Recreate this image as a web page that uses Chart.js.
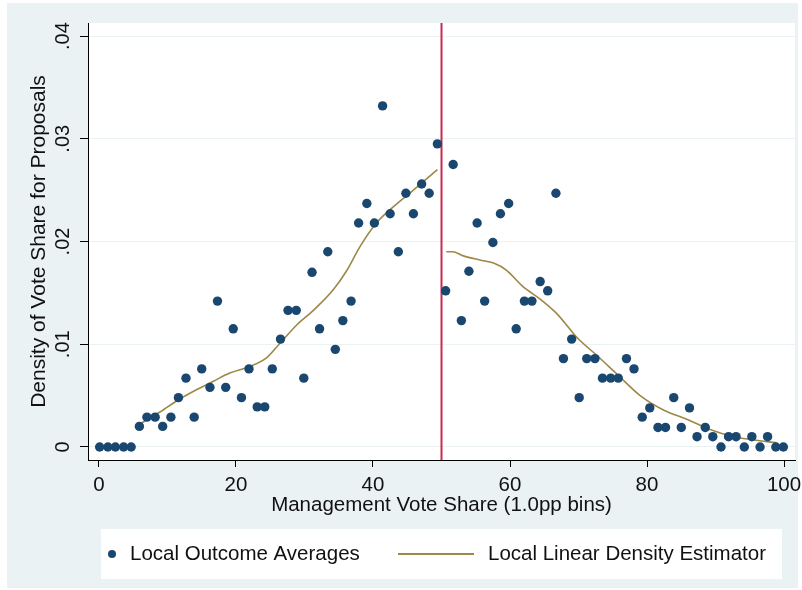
<!DOCTYPE html>
<html>
<head>
<meta charset="utf-8">
<script src="https://cdn.jsdelivr.net/npm/chart.js@4.4.1/dist/chart.umd.min.js"></script>
<style>
  html, body { margin: 0; padding: 0; background: #fff; }
  #wrap { width: 802px; height: 590px; }
</style>
</head>
<body>
<div id="wrap"><canvas id="chart" width="802" height="590"></canvas></div>
<script>
// bins left of the cutoff (x = bin centre, y = density)
const leftX = [0.1, 1.3, 2.4, 3.6, 4.7, 5.9, 7.0, 8.2, 9.3, 10.5, 11.6, 12.7, 13.9, 15.0, 16.2,
  17.3, 18.5, 19.6, 20.8, 21.9, 23.1, 24.2, 25.3, 26.5, 27.6, 28.8, 29.9, 31.1, 32.2, 33.4,
  34.5, 35.6, 36.8, 37.9, 39.1, 40.2, 41.4, 42.5, 43.7, 44.8, 45.9, 47.1, 48.2, 49.4];
const leftY = [0, 0, 0, 0, 0, 0.0020, 0.0029, 0.0029, 0.0020, 0.0029, 0.0048, 0.0067, 0.0029, 0.0076, 0.0058,
  0.0142, 0.0058, 0.0115, 0.0048, 0.0076, 0.0039, 0.0039, 0.0076, 0.0105, 0.0133, 0.0133, 0.0067, 0.0170, 0.0115, 0.0190,
  0.0095, 0.0123, 0.0142, 0.0218, 0.0237, 0.0218, 0.0332, 0.0227, 0.0190, 0.0247, 0.0227, 0.0256, 0.0247, 0.0295];

// bins right of the cutoff
const rightX = [50.6, 51.7, 52.9, 54.0, 55.2, 56.3, 57.5, 58.6, 59.8, 60.9, 62.1, 63.2, 64.4, 65.5, 66.7,
  67.8, 69.0, 70.1, 71.2, 72.4, 73.5, 74.7, 75.8, 77.0, 78.1, 79.3, 80.4, 81.6, 82.7, 83.9,
  85.0, 86.2, 87.3, 88.5, 89.6, 90.8, 91.9, 93.0, 94.2, 95.3, 96.5, 97.6, 98.8, 99.9];
const rightY = [0.0152, 0.0275, 0.0123, 0.0171, 0.0218, 0.0142, 0.0199, 0.0227, 0.0237, 0.0115, 0.0142, 0.0142, 0.0161, 0.0152, 0.0247,
  0.0086, 0.0105, 0.0048, 0.0086, 0.0086, 0.0067, 0.0067, 0.0067, 0.0086, 0.0076, 0.0029, 0.0038, 0.0019, 0.0019, 0.0048,
  0.0019, 0.0038, 0.0010, 0.0019, 0.0010, 0, 0.0010, 0.0010, 0, 0.0010, 0, 0.0010, 0, 0];

// local linear density fit, each side
const fitLeftX = [5.9, 8.9, 11.6, 14.3, 16.7, 19.1, 21.9, 24.5, 26.3, 28.9, 31.3, 34.2, 36.2, 38.1, 40.5, 43.0, 45.9, 49.4];
const fitLeftY = [0.0022, 0.0034, 0.0046, 0.0056, 0.0064, 0.0072, 0.0078, 0.0087, 0.0100, 0.0119, 0.0133, 0.0153, 0.0172, 0.0195, 0.0218, 0.0234, 0.0250, 0.0270];
const fitRightX = [50.7, 51.6, 53.2, 55.6, 57.6, 59.5, 61.9, 64.4, 66.8, 68.7, 69.7, 72.7, 75.6, 79.0, 82.4, 85.8, 89.2, 92.6, 95.5, 98.9];
const fitRightY = [0.0190, 0.0190, 0.0186, 0.0182, 0.0179, 0.0172, 0.0156, 0.0144, 0.0130, 0.0115, 0.0107, 0.0089, 0.0071, 0.0050, 0.0036, 0.0027, 0.0017, 0.0010, 0.0007, 0.0004];

const cutoff = 50;
const xTicks = [0, 20, 40, 60, 80, 100];
const xTickLabels = ["0", "20", "40", "60", "80", "100"];
const yTicks = [0, 0.01, 0.02, 0.03, 0.04];
const yTickLabels = ["0", ".01", ".02", ".03", ".04"];
const xTitle = "Management Vote Share (1.0pp bins)";
const yTitle = "Density of Vote Share for Proposals";
const dotLabel = "Local Outcome Averages";
const fitLabel = "Local Linear Density Estimator";

const dotColor = "#1a476f";
const fitColor = "#9c8847";
const cutColor = "#cc2b50";
const panelBg = "#eaf2f3";
const textColor = "#111";

// narrow font when it is there, the stata text looks condensed
function hasFont(name) {
  const c = document.createElement("canvas").getContext("2d");
  c.font = "40px monospace";
  const a = c.measureText("Management Vote").width;
  c.font = '40px "' + name + '", monospace';
  return c.measureText("Management Vote").width !== a;
}
const narrow = hasFont("Liberation Sans Narrow");
const hFont = narrow
  ? { family: '"Liberation Sans Narrow"', size: 25 }
  : { family: '"Liberation Sans", Arial, sans-serif', size: 20.5 };
const vFamily = '"Liberation Sans", Arial, sans-serif';

function pts(xs, ys) {
  return xs.map((x, i) => ({ x: x, y: ys[i] }));
}

const xMin = -1.6, xMax = 101.6;
const yMin = -0.00127, yMax = 0.04127;

const backdrop = {
  id: "backdrop",
  beforeDraw(chart) {
    const { ctx, chartArea: a } = chart;
    ctx.save();
    ctx.fillStyle = "#fff";
    ctx.fillRect(0, 0, chart.width, chart.height);
    ctx.fillStyle = panelBg;
    ctx.fillRect(7, 3, 791, 585);
    ctx.fillStyle = "#fff";
    ctx.fillRect(a.left, a.top, a.right - a.left, a.bottom - a.top);
    ctx.restore();
  },
  afterDraw(chart) {
    // legend box under the plot
    const ctx = chart.ctx;
    const cy = 554;
    ctx.save();
    ctx.fillStyle = "#fff";
    ctx.fillRect(101, 529, 681, 50);
    ctx.fillStyle = dotColor;
    ctx.beginPath();
    ctx.arc(112, cy, 4, 0, Math.PI * 2);
    ctx.fill();
    ctx.strokeStyle = fitColor;
    ctx.lineWidth = 2;
    ctx.beginPath();
    ctx.moveTo(398, cy);
    ctx.lineTo(474, cy);
    ctx.stroke();
    ctx.fillStyle = textColor;
    ctx.font = hFont.size + "px " + hFont.family;
    ctx.textBaseline = "middle";
    ctx.textAlign = "left";
    ctx.fillText(dotLabel, 130, cy);
    ctx.fillText(fitLabel, 488, cy);
    ctx.restore();
  },
};

new Chart(document.getElementById("chart"), {
  type: "scatter",
  data: {
    datasets: [
      {
        label: dotLabel,
        data: pts(leftX, leftY).concat(pts(rightX, rightY)),
        backgroundColor: dotColor,
        borderWidth: 0,
        pointRadius: 4.7,
        order: 1,
      },
      {
        label: fitLabel,
        data: pts(fitLeftX, fitLeftY),
        showLine: true,
        borderColor: fitColor,
        borderWidth: 1.6,
        pointRadius: 0,
        cubicInterpolationMode: "monotone",
        order: 2,
      },
      {
        label: fitLabel,
        data: pts(fitRightX, fitRightY),
        showLine: true,
        borderColor: fitColor,
        borderWidth: 1.6,
        pointRadius: 0,
        cubicInterpolationMode: "monotone",
        order: 3,
      },
      {
        label: "cutoff",
        data: [{ x: cutoff, y: yMin }, { x: cutoff, y: yMax }],
        showLine: true,
        borderColor: cutColor,
        borderWidth: 2,
        pointRadius: 0,
        order: 4,
      },
    ],
  },
  options: {
    responsive: false,
    animation: false,
    layout: { padding: { left: 0, top: 23, right: 7, bottom: 0 } },
    plugins: { legend: { display: false }, tooltip: { enabled: false } },
    scales: {
      x: {
        type: "linear",
        min: xMin,
        max: xMax,
        afterBuildTicks: (s) => { s.ticks = xTicks.map((v) => ({ value: v })); },
        afterFit: (s) => { s.height = 130; s.paddingLeft = 0; s.paddingRight = 0; },
        ticks: {
          color: textColor,
          padding: 6,
          maxRotation: 0,
          font: hFont,
          callback: (v, i) => xTickLabels[i],
        },
        grid: { drawOnChartArea: false, tickColor: "#000", tickLength: 7 },
        border: { color: "#000", width: 1 },
        title: {
          display: true,
          text: xTitle,
          color: textColor,
          font: hFont,
          padding: { top: 0, bottom: 84.5 - hFont.size * 0.6 },
        },
      },
      y: {
        type: "linear",
        min: yMin,
        max: yMax,
        afterBuildTicks: (s) => { s.ticks = yTicks.map((v) => ({ value: v })); },
        afterFit: (s) => { s.width = 88; s.paddingTop = 0; s.paddingBottom = 0; },
        ticks: {
          color: textColor,
          padding: 3,
          minRotation: 90,
          maxRotation: 90,
          crossAlign: "center",
          font: { family: vFamily, size: 20 },
          callback: (v, i) => yTickLabels[i],
        },
        grid: { color: panelBg, lineWidth: 1, tickColor: "#000", tickLength: 8 },
        border: { color: "#000", width: 1 },
        title: {
          display: true,
          text: yTitle,
          color: textColor,
          font: { family: vFamily, size: 21 },
          padding: { top: 27, bottom: 0 },
        },
      },
    },
  },
  plugins: [backdrop],
});
</script>
</body>
</html>
